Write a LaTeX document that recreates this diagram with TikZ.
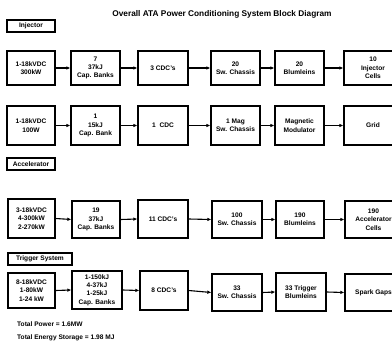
\documentclass[tikz,border=0pt]{standalone}
\usepackage{fontspec}
\setmainfont{Liberation Sans}
\usetikzlibrary{arrows.meta}
\newcommand{\blkbox}[6]{%
  \node[blk, minimum width={(#4-#2)*1pt}, minimum height={(#5-#3)*1pt}]
    (#1) at ({(#2+#4)/2},{(#3+#5)/2}) {#6};}
\begin{document}
\begin{tikzpicture}[x=1pt,y=-1pt,
  blk/.style={draw=black, line width=1.3pt, fill=white, align=center, inner sep=1pt,
    font=\fontsize{6.6}{8.4}\selectfont\bfseries},
  arr/.style={line width=1.1pt, -{Latex[length=4pt,width=3.6pt]}},
  note/.style={anchor=west, inner sep=0pt, font=\fontsize{6.6}{8}\selectfont\bfseries}]
\useasboundingbox (0,0) rectangle (392,343);
\fill[white] (0,0) rectangle (392,343);
\node[inner sep=0pt, font=\fontsize{8.3}{10}\selectfont\bfseries] (title) at (222,14)
  {Overall ATA Power Conditioning System Block Diagram};
% section labels
\blkbox{linj}{7}{20}{55}{32}{Injector}
\blkbox{lacc}{7}{158}{55}{170}{Accelerator}
\blkbox{ltrg}{8}{253}{72}{265}{Trigger System}
% row 1
\blkbox{a1}{7}{51}{55}{85}{1-18kVDC\\300kW}
\blkbox{a2}{71}{51}{120}{85}{7\\37kJ\\Cap. Banks}
\blkbox{a3}{138}{51}{188}{85}{3 CDC's}
\blkbox{a4}{211}{51}{260}{85}{20\\Sw. Chassis}
\blkbox{a5}{275}{51}{324}{85}{20\\Blumleins}
\blkbox{a6}{344}{51}{402}{85}{10\\Injector\\Cells}
% row 2
\blkbox{b1}{7}{106}{55}{145}{1-18kVDC\\100W}
\blkbox{b2}{71}{106}{120}{145}{1\\15kJ\\Cap. Bank}
\blkbox{b3}{138}{106}{188}{145}{1 \ CDC}
\blkbox{b4}{211}{106}{260}{145}{1 Mag\\Sw. Chassis}
\blkbox{b5}{275}{106}{324}{145}{Magnetic\\Modulator}
\blkbox{b6}{344}{106}{402}{145}{Grid}
% row 3
\blkbox{c1}{8}{199}{55}{238}{3-18kVDC\\4-300kW\\2-270kW}
\blkbox{c2}{72}{201}{120}{238}{19\\37kJ\\Cap. Banks}
\blkbox{c3}{138}{200}{188}{238}{11 CDC's}
\blkbox{c4}{212}{201}{262}{238}{100\\Sw. Chassis}
\blkbox{c5}{276}{201}{324}{238}{190\\Blumleins}
\blkbox{c6}{345}{201}{402}{238}{190\\Accelerator\\Cells}
% row 4
\blkbox{d1}{8}{273}{55}{308}{8-18kVDC\\1-80kW\\1-24 kW}
\blkbox{d2}{72}{271}{122}{309}{1-150kJ\\4-37kJ\\1-25kJ\\Cap. Banks}
\blkbox{d3}{140}{271}{188}{310}{8 CDC's}
\blkbox{d4}{212}{274}{262}{311}{33\\Sw. Chassis}
\blkbox{d5}{276}{273}{326}{311}{33 Trigger\\Blumleins}
\blkbox{d6}{345}{274}{402}{311}{Spark Gaps}
% connectors
\foreach \r in {a,b,c,d}{
  \draw[arr] (\r1.east) -- (\r2.west);
  \draw[arr] (\r2.east) -- (\r3.west);
  \draw[arr] (\r3.east) -- (\r4.west);
  \draw[arr] (\r4.east) -- (\r5.west);
  \draw[arr] (\r5.east) -- (\r6.west);
}
\node[note] (tp) at (17,324) {Total Power = 1.6MW};
\node[note] (te) at (17,338) {Total Energy Storage = 1.98 MJ};
\end{tikzpicture}
\end{document}
